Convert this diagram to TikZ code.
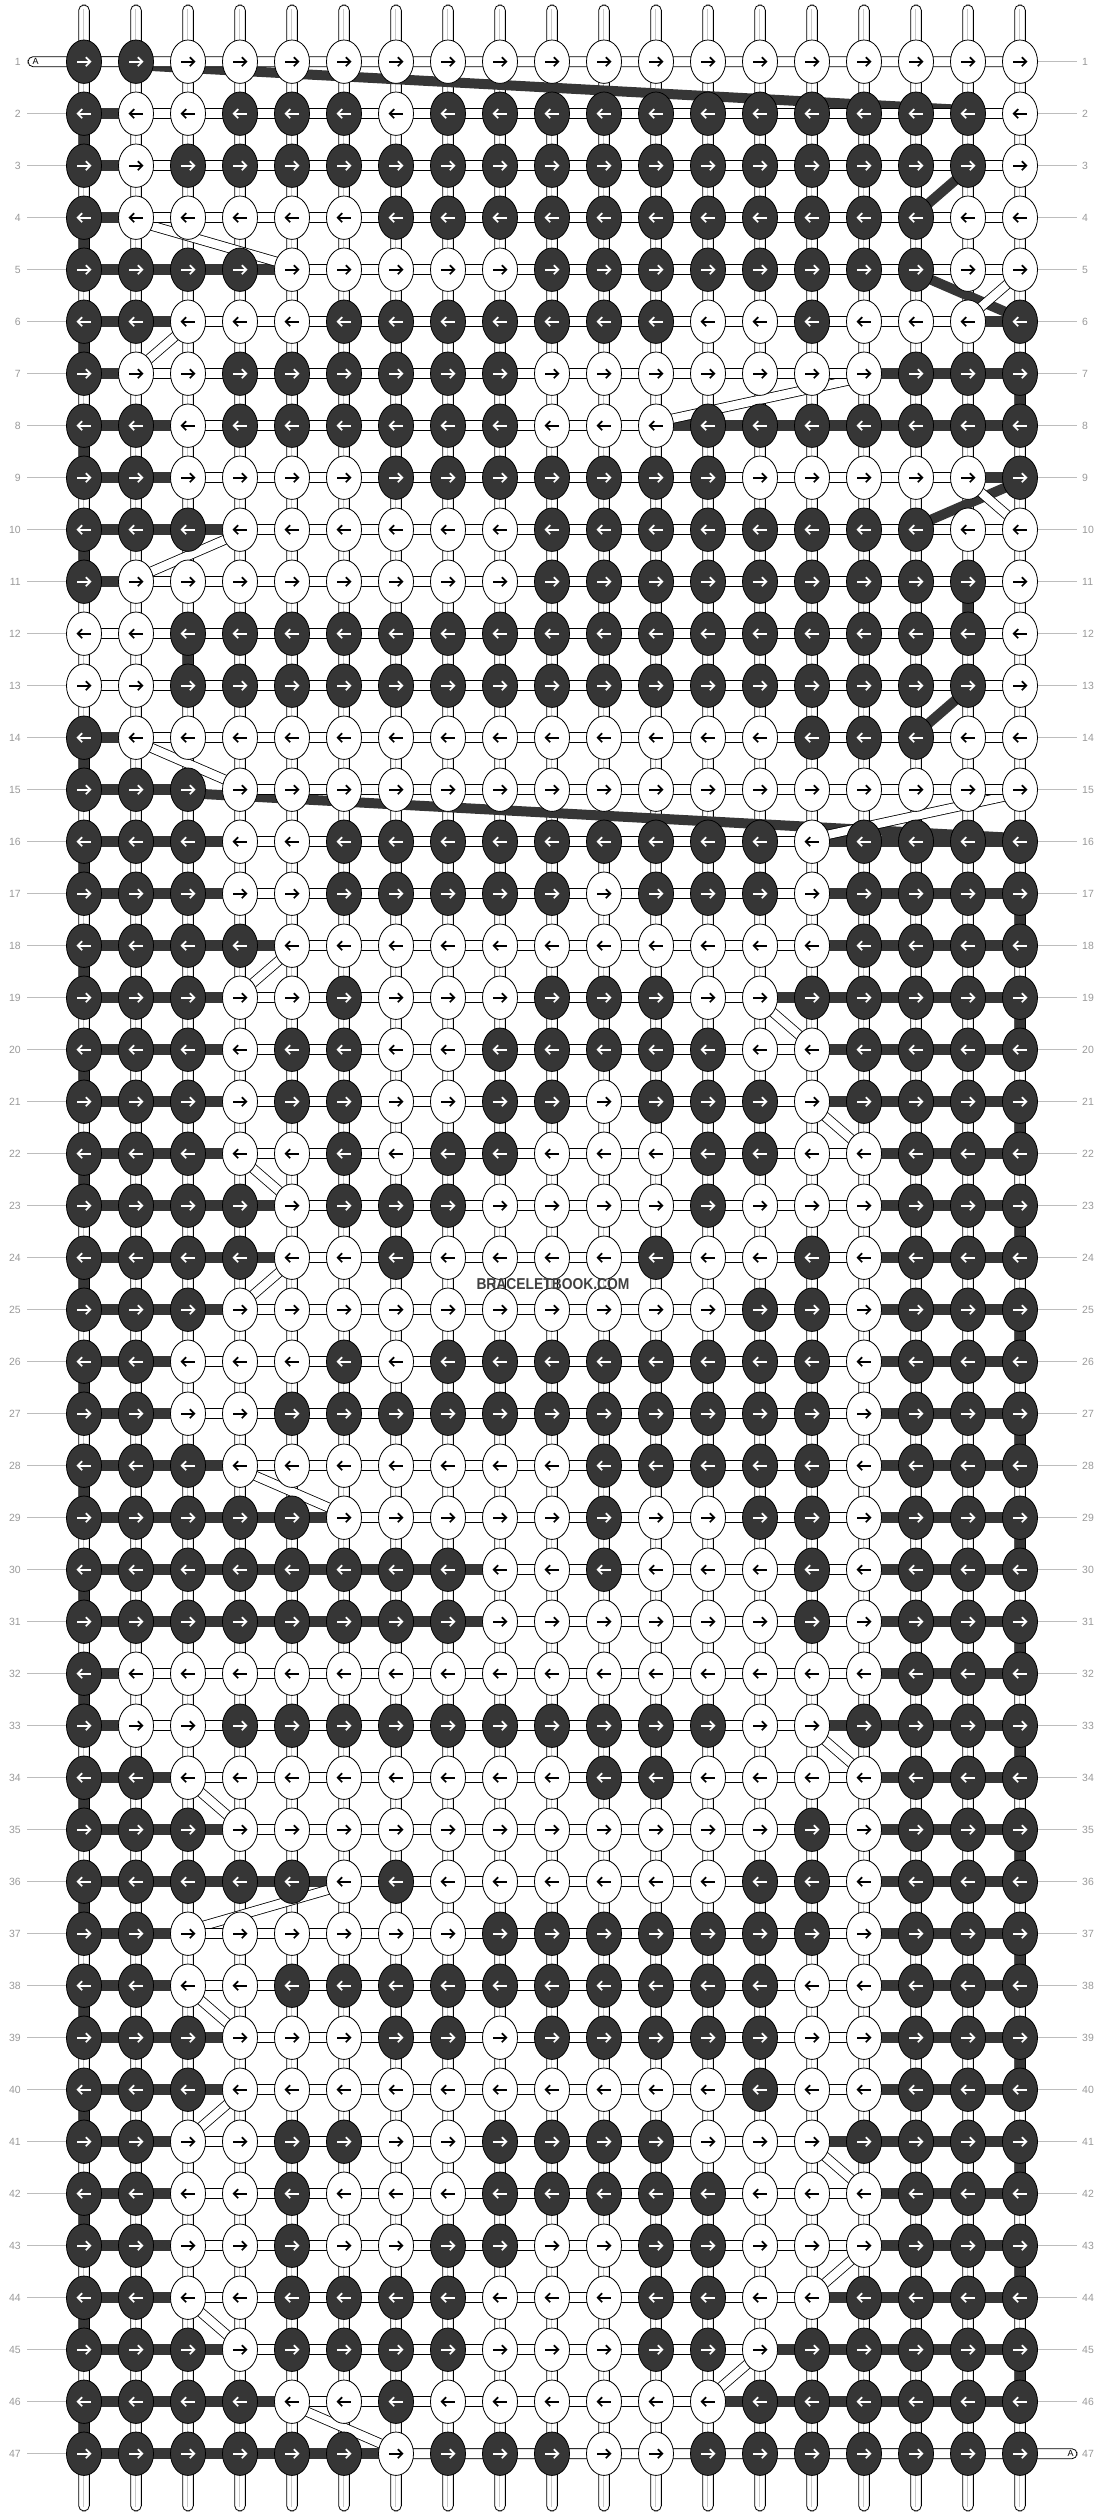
\documentclass[tikz,border=0pt]{standalone}
\usepackage{fontspec}
\setmainfont{Liberation Sans}
\usepackage{graphicx}
\usetikzlibrary{shapes.geometric}
\definecolor{dk}{HTML}{363636}
\definecolor{lbltext}{HTML}{9A9A9A}
\definecolor{lblgray}{HTML}{BDBDBD}
\definecolor{strandgray}{HTML}{C8C8C8}
\definecolor{wmark}{HTML}{404040}
\newcommand\defrow[2]{\expandafter\def\csname myrow#1\endcsname{#2}}
\defrow{1}{1,1,0,0,0,0,0,0,0,0,0,0,0,0,0,0,0,0,0}
\defrow{2}{1,0,0,1,1,1,0,1,1,1,1,1,1,1,1,1,1,1,0}
\defrow{3}{1,0,1,1,1,1,1,1,1,1,1,1,1,1,1,1,1,1,0}
\defrow{4}{1,0,0,0,0,0,1,1,1,1,1,1,1,1,1,1,1,0,0}
\defrow{5}{1,1,1,1,0,0,0,0,0,1,1,1,1,1,1,1,1,0,0}
\defrow{6}{1,1,0,0,0,1,1,1,1,1,1,1,0,0,1,0,0,0,1}
\defrow{7}{1,0,0,1,1,1,1,1,1,0,0,0,0,0,0,0,1,1,1}
\defrow{8}{1,1,0,1,1,1,1,1,1,0,0,0,1,1,1,1,1,1,1}
\defrow{9}{1,1,0,0,0,0,1,1,1,1,1,1,1,0,0,0,0,0,1}
\defrow{10}{1,1,1,0,0,0,0,0,0,1,1,1,1,1,1,1,1,0,0}
\defrow{11}{1,0,0,0,0,0,0,0,0,1,1,1,1,1,1,1,1,1,0}
\defrow{12}{0,0,1,1,1,1,1,1,1,1,1,1,1,1,1,1,1,1,0}
\defrow{13}{0,0,1,1,1,1,1,1,1,1,1,1,1,1,1,1,1,1,0}
\defrow{14}{1,0,0,0,0,0,0,0,0,0,0,0,0,0,1,1,1,0,0}
\defrow{15}{1,1,1,0,0,0,0,0,0,0,0,0,0,0,0,0,0,0,0}
\defrow{16}{1,1,1,0,0,1,1,1,1,1,1,1,1,1,0,1,1,1,1}
\defrow{17}{1,1,1,0,0,1,1,1,1,1,0,1,1,1,0,1,1,1,1}
\defrow{18}{1,1,1,1,0,0,0,0,0,0,0,0,0,0,0,1,1,1,1}
\defrow{19}{1,1,1,0,0,1,0,0,0,1,1,1,0,0,1,1,1,1,1}
\defrow{20}{1,1,1,0,1,1,0,0,1,1,1,1,1,0,0,1,1,1,1}
\defrow{21}{1,1,1,0,1,1,0,0,1,1,0,1,1,1,0,1,1,1,1}
\defrow{22}{1,1,1,0,0,1,0,1,1,0,0,0,1,1,0,0,1,1,1}
\defrow{23}{1,1,1,1,0,1,1,1,0,0,0,0,1,0,0,0,1,1,1}
\defrow{24}{1,1,1,1,0,0,1,0,0,0,0,1,0,0,1,0,1,1,1}
\defrow{25}{1,1,1,0,0,0,0,0,0,0,0,0,0,1,1,0,1,1,1}
\defrow{26}{1,1,0,0,0,1,0,1,1,1,1,1,1,1,1,0,1,1,1}
\defrow{27}{1,1,0,0,1,1,1,1,1,1,1,1,1,1,1,0,1,1,1}
\defrow{28}{1,1,1,0,0,0,0,0,0,0,1,1,1,1,1,0,1,1,1}
\defrow{29}{1,1,1,1,1,0,0,0,0,0,1,0,0,1,1,0,1,1,1}
\defrow{30}{1,1,1,1,1,1,1,1,0,0,1,0,0,0,1,0,1,1,1}
\defrow{31}{1,1,1,1,1,1,1,1,0,0,0,0,0,0,1,0,1,1,1}
\defrow{32}{1,0,0,0,0,0,0,0,0,0,0,0,0,0,0,0,1,1,1}
\defrow{33}{1,0,0,1,1,1,1,1,1,1,1,1,1,0,0,1,1,1,1}
\defrow{34}{1,1,0,0,0,0,0,0,0,0,1,1,0,0,0,0,1,1,1}
\defrow{35}{1,1,1,0,0,0,0,0,0,0,0,0,0,0,1,0,1,1,1}
\defrow{36}{1,1,1,1,1,0,1,0,0,0,0,0,0,1,1,0,1,1,1}
\defrow{37}{1,1,0,0,0,0,0,0,1,1,1,1,1,1,1,0,1,1,1}
\defrow{38}{1,1,0,0,1,1,1,1,1,1,1,1,1,1,0,0,1,1,1}
\defrow{39}{1,1,1,0,0,0,1,1,0,1,1,1,1,1,0,0,1,1,1}
\defrow{40}{1,1,1,0,0,0,0,0,0,0,0,0,0,1,0,0,1,1,1}
\defrow{41}{1,1,0,0,1,1,0,0,1,1,1,1,0,0,0,1,1,1,1}
\defrow{42}{1,1,0,0,1,0,0,0,1,1,1,1,1,0,0,0,1,1,1}
\defrow{43}{1,1,0,0,1,0,0,1,1,0,0,1,1,0,0,0,1,1,1}
\defrow{44}{1,1,0,0,1,1,1,1,0,0,0,1,1,0,0,1,1,1,1}
\defrow{45}{1,1,1,0,1,1,1,1,0,0,0,1,1,0,1,1,1,1,1}
\defrow{46}{1,1,1,1,0,0,1,0,0,0,0,0,0,1,1,1,1,1,1}
\defrow{47}{1,1,1,1,1,1,0,1,1,1,0,0,1,1,1,1,1,1,1}
\newcommand\knotarrow[3]{%
  \begin{scope}[shift={(#1)},xscale=#3]
    \draw[#2,line width=1.7bp] (-6.6,0) -- (5.6,0);
    \draw[#2,line width=1.7bp,line join=miter] (1.8,-4.5) -- (6.3,0) -- (1.8,4.5);
  \end{scope}}
\tikzset{
  knotbase/.style={ellipse,draw=black,line width=0.8bp,minimum width=35bp,minimum height=43.4bp,inner sep=0pt},
  knotdark/.style={knotbase,fill=dk},
  knotlight/.style={knotbase,fill=white},
  strand/.style={draw=black,fill=white,line width=0.8bp,rounded corners=5.35bp},
  darkseg/.style={fill=dk},
  lightseg/.style={draw=black,fill=white,line width=0.8bp},
  darkdiag/.style={draw=dk,line width=10bp},
  lightdiag/.style={draw=black,line width=0.8bp,double=white,double distance=8.4bp},
  rowlbl/.style={text=lbltext,font=\fontsize{10.5}{12}\selectfont,inner ysep=0pt},
  lblrule/.style={draw=lblgray,line width=0.9bp},
}
\begin{document}
\begin{tikzpicture}[x=1bp,y=-1bp]
\useasboundingbox (0,0) rectangle (1104,2516);
\fill[white] (0,0) rectangle (1104,2516);
% grid coordinates
\foreach \rr in {1,...,47}{\foreach \kk in {1,...,19}{\coordinate (p-\rr-\kk) at ({32+52*\kk},{9.7+52*\rr});}}
% vertical strands
\foreach \kk in {1,...,19}{
  \draw[strand] ({32+52*\kk-5.35},5) rectangle ({32+52*\kk+5.35},2511);
  \draw[strandgray,line width=0.9bp] ({32+52*\kk-0.8},9) -- ({32+52*\kk-0.8},2507);
}
% dark string: vertical turns
\foreach \rr/\kk in {2/1,4/1,6/1,7/19,8/1,10/1,11/18,12/3,14/1}{
  \pgfmathtruncatemacro\rn{\rr+1}
  \fill[darkseg] ([xshift=-5.35bp]p-\rr-\kk) rectangle ([xshift=5.35bp]p-\rn-\kk);
}
\foreach \rr in {16,...,46}{
  \pgfmathtruncatemacro\rn{\rr+1}
  \ifodd\rr\def\kk{19}\else\def\kk{1}\fi
  \fill[darkseg] ([xshift=-5.35bp]p-\rr-\kk) rectangle ([xshift=5.35bp]p-\rn-\kk);
}
% dark string: diagonal carries
\foreach \rr/\ka/\kb in {1/2/18,3/18/17,5/17/19,9/19/17,13/18/17,15/3/19}{
  \pgfmathtruncatemacro\rn{\rr+1}
  \draw[darkdiag] ([yshift=-3.5bp]p-\rr-\ka) -- ([yshift=3.5bp]p-\rn-\kb);
}
% dark string: row spans
\foreach \rr/\da/\db in {1/1/2,2/1/18,3/1/18,4/1/17,5/1/17,6/1/19,7/1/19,8/1/19,9/1/19,10/1/17,11/1/18,12/3/18,13/3/18,14/1/17,15/1/3}{
  \fill[darkseg] ([yshift=5.3bp]p-\rr-\da) rectangle ([yshift=-5.3bp]p-\rr-\db);
}
\foreach \rr in {16,...,47}{
  \fill[darkseg] ([yshift=5.3bp]p-\rr-1) rectangle ([yshift=-5.3bp]p-\rr-19);
}
% light string: diagonal carries
\foreach \rr/\ka/\kb in {4/2/5,5/19/18,6/3/2,7/16/12,9/18/19,10/4/2,14/2/4,15/19/15,18/5/4,19/14/15,21/15/16,22/4/5,24/5/4,28/4/6,33/15/16,34/3/4,36/6/3,38/3/4,40/4/3,41/15/16,43/16/15,44/3/4,45/14/13,46/5/7}{
  \pgfmathtruncatemacro\rn{\rr+1}
  \draw[lightdiag] ([yshift=-3.5bp]p-\rr-\ka) -- ([yshift=3.5bp]p-\rn-\kb);
}
% light string: row spans
\draw[lightseg,rounded corners=5bp] (28,56.7) rectangle ([yshift=-5bp]p-1-19);
\foreach \rr/\wa/\wb in {2/2/19,3/2/19,4/2/19,5/5/19,6/3/18,7/2/16,8/3/12,9/3/18,10/4/19,11/2/19,12/1/19,13/1/19,14/2/19,15/4/19,16/4/15,17/4/15,18/5/15,19/4/14,20/4/15,21/4/15,22/4/16,23/5/16,24/5/16,25/4/16,26/3/16,27/3/16,28/4/16,29/6/16,30/9/16,31/9/16,32/2/16,33/2/15,34/3/16,35/4/16,36/6/16,37/3/16,38/3/16,39/4/16,40/4/16,41/3/15,42/3/16,43/3/16,44/3/15,45/4/14,46/5/13}{
  \draw[lightseg] ([yshift=5bp]p-\rr-\wa) rectangle ([yshift=-5bp]p-\rr-\wb);
}
\draw[lightseg,rounded corners=5bp] ([yshift=5bp]p-47-7) rectangle (1077,2458.7);
\node[inner sep=0pt,font=\fontsize{9}{9}\selectfont] (tagA1) at (35.5,61.7) {A};
\node[inner sep=0pt,font=\fontsize{9}{9}\selectfont] (tagA47) at (1070.5,2453.7) {A};
% knots
\foreach \rr in {1,...,47}{%
  \ifodd\rr\def\dirv{1}\else\def\dirv{-1}\fi
  \expandafter\let\expandafter\curlist\csname myrow\rr\endcsname
  \foreach \vv [count=\kk] in \curlist {%
    \ifnum\vv=1
      \node[knotdark] (k-\rr-\kk) at (p-\rr-\kk) {};
      \knotarrow{p-\rr-\kk}{white}{\dirv}
    \else
      \node[knotlight] (k-\rr-\kk) at (p-\rr-\kk) {};
      \knotarrow{p-\rr-\kk}{black}{\dirv}
    \fi
  }
}
% row labels
\foreach \rr in {1,...,47}{
  \node[rowlbl,anchor=east,inner xsep=6bp] (ll-\rr) at (27,{9.7+52*\rr}) {\rr};
  \node[rowlbl,anchor=west,inner xsep=5bp] (rl-\rr) at (1077,{9.7+52*\rr}) {\rr};
}
\foreach \rr in {2,...,47}{\draw[lblrule] (ll-\rr) -- (k-\rr-1);}
\foreach \rr in {1,...,46}{\draw[lblrule] (k-\rr-19) -- (rl-\rr);}
% watermark
\node[text=wmark,inner sep=0pt] (wm) at (553,1283.7) {\resizebox{153bp}{11bp}{\bfseries BRACELETBOOK.COM}};
\end{tikzpicture}
\end{document}
